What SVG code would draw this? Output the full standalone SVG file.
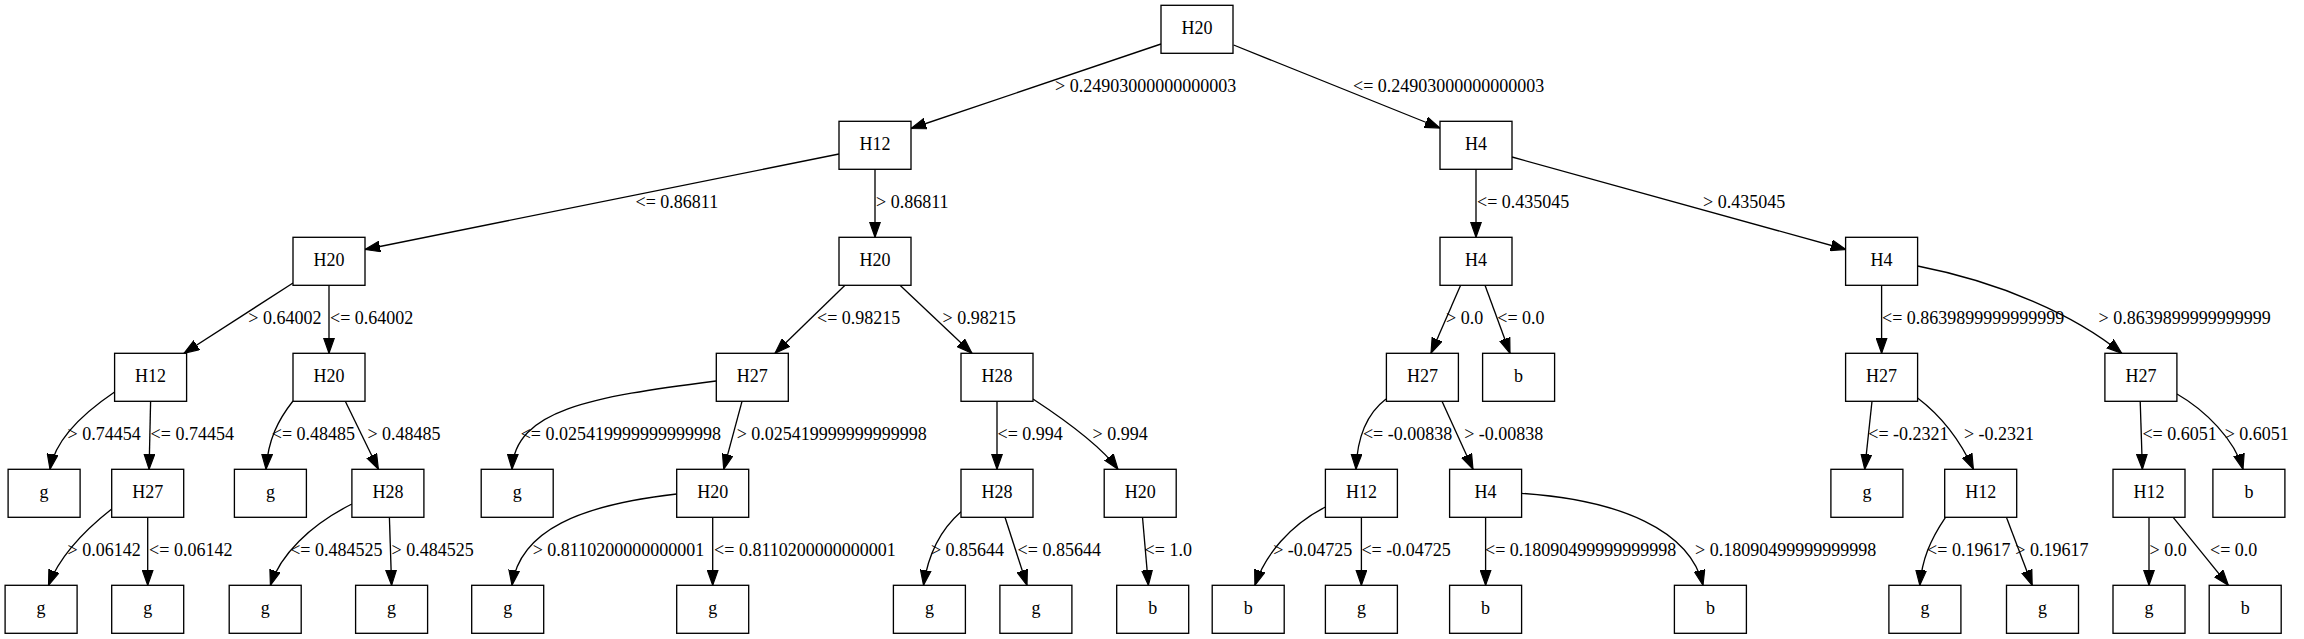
<svg xmlns="http://www.w3.org/2000/svg" width="2304" height="639" viewBox="0 0 2304 639">
<style>
.n rect{fill:#fff;stroke:#000;stroke-width:1.33}
text{font-family:"Liberation Serif","Times New Roman",serif;font-size:18px;fill:#000}
.n text{text-anchor:middle}
.e path{fill:none;stroke:#000;stroke-width:1.33;marker-end:url(#ah)}
</style>
<defs>
<marker id="ah" markerUnits="userSpaceOnUse" markerWidth="16" markerHeight="12" refX="13.3" refY="5" orient="auto" viewBox="0 0 14 10">
<path d="M0,0.3 L13.3,5 L0,9.7 z" fill="#000" stroke="#000" stroke-width="1"/>
</marker>
</defs>
<rect width="2304" height="639" fill="#fff"/>
<g id="edges" class="e">
<path d="M1161,44 L911,128.5"/>
<path d="M1233.6,45 L1440,128"/>
<path d="M839,154 L365,249.5"/>
<path d="M875,169.3 L875,237.3"/>
<path d="M1476,169.3 L1476,237.3"/>
<path d="M1512,157 L1846,249.5"/>
<path d="M293,283 L184,353.3"/>
<path d="M329,285.3 L329,353.3"/>
<path d="M845,285.3 L775,353.3"/>
<path d="M900,285.3 L972,353.3"/>
<path d="M1460.6,285.3 L1431,353.3"/>
<path d="M1485,285.3 L1510,353.3"/>
<path d="M1881.6,285.3 L1881.6,353.3"/>
<path d="M1917.6,266 C2000,282 2075,315 2121.8,353.3"/>
<path d="M114.6,392 C82,414 55,440 50,469.3"/>
<path d="M150.6,401.3 L149.1,469.3"/>
<path d="M293,401 C278,420 268,440 266,469.3"/>
<path d="M345.3,401.3 L378.4,469.3"/>
<path d="M716,381 C590,397 515,410 512,469.3"/>
<path d="M742,401.3 L723.7,469.3"/>
<path d="M997,401.3 L997,469.3"/>
<path d="M1033,399 C1065,420 1100,445 1118,469.3"/>
<path d="M1386,399 C1365,415 1357,440 1356,469.3"/>
<path d="M1442,401.3 L1473,469.3"/>
<path d="M1872,401.3 L1864.7,469.3"/>
<path d="M1917.6,398 C1940,415 1960,440 1973.4,469.3"/>
<path d="M2140.2,401.3 L2142.4,469.3"/>
<path d="M2177,394 C2205,410 2235,440 2243,469.3"/>
<path d="M111.7,509 C85,530 60,555 48.5,585.3"/>
<path d="M147.7,517.3 L147.7,585.3"/>
<path d="M351.9,504 C310,525 280,555 270.4,585.3"/>
<path d="M389.4,517.3 L391.6,585.3"/>
<path d="M676.7,494 C580,505 520,530 512,585.3"/>
<path d="M712.7,517.3 L712.7,585.3"/>
<path d="M961,511.7 C940,530 928,555 923.5,585.3"/>
<path d="M1005,517.3 L1027,585.3"/>
<path d="M1142.5,517.3 L1148.4,585.3"/>
<path d="M1325.4,507 C1290,525 1265,555 1254.9,585.3"/>
<path d="M1361.4,517.3 L1361.4,585.3"/>
<path d="M1485.6,517.3 L1485.6,585.3"/>
<path d="M1521.6,493.3 C1620,500 1690,530 1703,585.3"/>
<path d="M1945.5,517.3 C1930,540 1922,560 1919.8,585.3"/>
<path d="M2006.4,517.3 L2032.2,585.3"/>
<path d="M2149,517.3 L2149,585.3"/>
<path d="M2173.2,517.3 L2228.4,585.3"/>
</g>
<g id="edge-labels">
<text x="1055" y="92">&gt; 0.24903000000000003</text>
<text x="1353" y="92">&lt;= 0.24903000000000003</text>
<text x="635.5" y="208">&lt;= 0.86811</text>
<text x="876" y="208">&gt; 0.86811</text>
<text x="1477" y="208">&lt;= 0.435045</text>
<text x="1703" y="208">&gt; 0.435045</text>
<text x="248.3" y="324">&gt; 0.64002</text>
<text x="330" y="324">&lt;= 0.64002</text>
<text x="817" y="324">&lt;= 0.98215</text>
<text x="942.6" y="324">&gt; 0.98215</text>
<text x="1446" y="324">&gt; 0.0</text>
<text x="1497.3" y="324">&lt;= 0.0</text>
<text x="1882" y="324">&lt;= 0.8639899999999999</text>
<text x="2098.5" y="324">&gt; 0.8639899999999999</text>
<text x="67.6" y="440">&gt; 0.74454</text>
<text x="150.6" y="440">&lt;= 0.74454</text>
<text x="271.8" y="440">&lt;= 0.48485</text>
<text x="367.4" y="440">&gt; 0.48485</text>
<text x="520.7" y="440">&lt;= 0.025419999999999998</text>
<text x="736.7" y="440">&gt; 0.025419999999999998</text>
<text x="997.5" y="440">&lt;= 0.994</text>
<text x="1092.5" y="440">&gt; 0.994</text>
<text x="1362.9" y="440">&lt;= -0.00838</text>
<text x="1464.2" y="440">&gt; -0.00838</text>
<text x="1868.3" y="440">&lt;= -0.2321</text>
<text x="1963.9" y="440">&gt; -0.2321</text>
<text x="2142.4" y="440">&lt;= 0.6051</text>
<text x="2224.7" y="440">&gt; 0.6051</text>
<text x="67.6" y="556">&gt; 0.06142</text>
<text x="149.1" y="556">&lt;= 0.06142</text>
<text x="290.2" y="556">&lt;= 0.484525</text>
<text x="391.6" y="556">&gt; 0.484525</text>
<text x="532.7" y="556">&gt; 0.8110200000000001</text>
<text x="714.1" y="556">&lt;= 0.8110200000000001</text>
<text x="930.9" y="556">&gt; 0.85644</text>
<text x="1017.6" y="556">&lt;= 0.85644</text>
<text x="1144.6" y="556">&lt;= 1.0</text>
<text x="1273.2" y="556">&gt; -0.04725</text>
<text x="1361.4" y="556">&lt;= -0.04725</text>
<text x="1485" y="556">&lt;= 0.18090499999999998</text>
<text x="1695" y="556">&gt; 0.18090499999999998</text>
<text x="1927.1" y="556">&lt;= 0.19617</text>
<text x="2015.3" y="556">&gt; 0.19617</text>
<text x="2149.5" y="556">&gt; 0.0</text>
<text x="2210" y="556">&lt;= 0.0</text>
</g>
<g id="n0" class="n"><rect x="1161" y="5.3" width="72" height="48"/><text x="1197" y="34.3">H20</text></g>
<g id="n1" class="n"><rect x="839" y="121.3" width="72" height="48"/><text x="875" y="150.3">H12</text></g>
<g id="n2" class="n"><rect x="1440" y="121.3" width="72" height="48"/><text x="1476" y="150.3">H4</text></g>
<g id="n3" class="n"><rect x="293" y="237.3" width="72" height="48"/><text x="329" y="266.3">H20</text></g>
<g id="n4" class="n"><rect x="839" y="237.3" width="72" height="48"/><text x="875" y="266.3">H20</text></g>
<g id="n5" class="n"><rect x="1440" y="237.3" width="72" height="48"/><text x="1476" y="266.3">H4</text></g>
<g id="n6" class="n"><rect x="1845.6" y="237.3" width="72" height="48"/><text x="1881.6" y="266.3">H4</text></g>
<g id="n7" class="n"><rect x="114.6" y="353.3" width="72" height="48"/><text x="150.6" y="382.3">H12</text></g>
<g id="n8" class="n"><rect x="293" y="353.3" width="72" height="48"/><text x="329" y="382.3">H20</text></g>
<g id="n9" class="n"><rect x="716.3" y="353.3" width="72" height="48"/><text x="752.3" y="382.3">H27</text></g>
<g id="n10" class="n"><rect x="961" y="353.3" width="72" height="48"/><text x="997" y="382.3">H28</text></g>
<g id="n11" class="n"><rect x="1386.4" y="353.3" width="72" height="48"/><text x="1422.4" y="382.3">H27</text></g>
<g id="n12" class="n"><rect x="1482.6" y="353.3" width="72" height="48"/><text x="1518.6" y="382.3">b</text></g>
<g id="n13" class="n"><rect x="1845.6" y="353.3" width="72" height="48"/><text x="1881.6" y="382.3">H27</text></g>
<g id="n14" class="n"><rect x="2104.9" y="353.3" width="72" height="48"/><text x="2140.9" y="382.3">H27</text></g>
<g id="n15" class="n"><rect x="8.1" y="469.3" width="72" height="48"/><text x="44.1" y="498.3">g</text></g>
<g id="n16" class="n"><rect x="111.7" y="469.3" width="72" height="48"/><text x="147.7" y="498.3">H27</text></g>
<g id="n17" class="n"><rect x="234.4" y="469.3" width="72" height="48"/><text x="270.4" y="498.3">g</text></g>
<g id="n18" class="n"><rect x="351.9" y="469.3" width="72" height="48"/><text x="387.9" y="498.3">H28</text></g>
<g id="n19" class="n"><rect x="481.2" y="469.3" width="72" height="48"/><text x="517.2" y="498.3">g</text></g>
<g id="n20" class="n"><rect x="676.7" y="469.3" width="72" height="48"/><text x="712.7" y="498.3">H20</text></g>
<g id="n21" class="n"><rect x="961" y="469.3" width="72" height="48"/><text x="997" y="498.3">H28</text></g>
<g id="n22" class="n"><rect x="1104.2" y="469.3" width="72" height="48"/><text x="1140.2" y="498.3">H20</text></g>
<g id="n23" class="n"><rect x="1325.4" y="469.3" width="72" height="48"/><text x="1361.4" y="498.3">H12</text></g>
<g id="n24" class="n"><rect x="1449.6" y="469.3" width="72" height="48"/><text x="1485.6" y="498.3">H4</text></g>
<g id="n25" class="n"><rect x="1830.9" y="469.3" width="72" height="48"/><text x="1866.9" y="498.3">g</text></g>
<g id="n26" class="n"><rect x="1944.7" y="469.3" width="72" height="48"/><text x="1980.7" y="498.3">H12</text></g>
<g id="n27" class="n"><rect x="2113" y="469.3" width="72" height="48"/><text x="2149" y="498.3">H12</text></g>
<g id="n28" class="n"><rect x="2212.9" y="469.3" width="72" height="48"/><text x="2248.9" y="498.3">b</text></g>
<g id="n29" class="n"><rect x="5.1" y="585.3" width="72" height="48"/><text x="41.1" y="614.3">g</text></g>
<g id="n30" class="n"><rect x="111.7" y="585.3" width="72" height="48"/><text x="147.7" y="614.3">g</text></g>
<g id="n31" class="n"><rect x="229.2" y="585.3" width="72" height="48"/><text x="265.2" y="614.3">g</text></g>
<g id="n32" class="n"><rect x="355.6" y="585.3" width="72" height="48"/><text x="391.6" y="614.3">g</text></g>
<g id="n33" class="n"><rect x="471.7" y="585.3" width="72" height="48"/><text x="507.7" y="614.3">g</text></g>
<g id="n34" class="n"><rect x="676.7" y="585.3" width="72" height="48"/><text x="712.7" y="614.3">g</text></g>
<g id="n35" class="n"><rect x="893.4" y="585.3" width="72" height="48"/><text x="929.4" y="614.3">g</text></g>
<g id="n36" class="n"><rect x="999.9" y="585.3" width="72" height="48"/><text x="1035.9" y="614.3">g</text></g>
<g id="n37" class="n"><rect x="1116.7" y="585.3" width="72" height="48"/><text x="1152.7" y="614.3">b</text></g>
<g id="n38" class="n"><rect x="1212.2" y="585.3" width="72" height="48"/><text x="1248.2" y="614.3">b</text></g>
<g id="n39" class="n"><rect x="1325.4" y="585.3" width="72" height="48"/><text x="1361.4" y="614.3">g</text></g>
<g id="n40" class="n"><rect x="1449.6" y="585.3" width="72" height="48"/><text x="1485.6" y="614.3">b</text></g>
<g id="n41" class="n"><rect x="1674.4" y="585.3" width="72" height="48"/><text x="1710.4" y="614.3">b</text></g>
<g id="n42" class="n"><rect x="1888.9" y="585.3" width="72" height="48"/><text x="1924.9" y="614.3">g</text></g>
<g id="n43" class="n"><rect x="2006.5" y="585.3" width="72" height="48"/><text x="2042.5" y="614.3">g</text></g>
<g id="n44" class="n"><rect x="2113" y="585.3" width="72" height="48"/><text x="2149" y="614.3">g</text></g>
<g id="n45" class="n"><rect x="2209.2" y="585.3" width="72" height="48"/><text x="2245.2" y="614.3">b</text></g>
</svg>
